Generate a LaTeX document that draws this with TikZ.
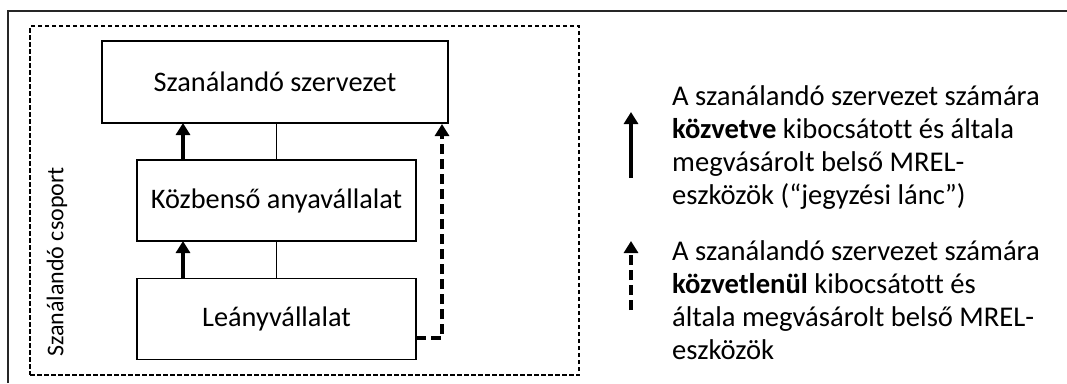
\documentclass[tikz,border=0pt]{standalone}
\usepackage{fontspec}
\setmainfont{Carlito}[Ligatures=CommonOff]
\usetikzlibrary{arrows.meta}
\tikzset{
  box/.style={draw, line width=1.6pt, minimum width=346pt, minimum height=82pt, inner sep=0pt, font=\fontsize{28.3}{32}\selectfont},
  midbox/.style={box, minimum width=279pt, minimum height=81pt},
  thin/.style={line width=1.3pt},
  thickarrow/.style={line width=3.8pt, -{Triangle[width=14pt,length=12pt]}},
  dasharrow/.style={line width=3.8pt, dash pattern=on 10pt off 5pt, -{Triangle[width=14pt,length=12pt]}},
  grpbox/.style={draw, line width=1.2pt, dash pattern=on 4.5pt off 2.5pt},
  legtext/.style={anchor=base west, inner sep=0pt, font=\fontsize{28.6}{33}\selectfont},
}
\begin{document}
\begin{tikzpicture}[x=1pt,y=-1pt]
\useasboundingbox (0,0) rectangle (1067,383);
% outer frame
\coordinate (fbl) at (8,383);
\coordinate (ftl) at (8,11);
\coordinate (ftr) at (1067,11);
\draw[line width=1.8pt, black!85] (fbl) -- (ftl) -- (ftr);
% group box
\node[grpbox, minimum width=549pt, minimum height=349pt, inner sep=0pt] (grp) at (304.5,200.5) {};
\node[rotate=90, font=\fontsize{24}{28}\selectfont, inner sep=0pt] (grplabel) at (57,262) {Szanálandó csoport};
% boxes
\node[box] (top) at (275,82) {Szanálandó szervezet};
\node[midbox] (mid) at (276.5,200.5) {Közbenső anyavállalat};
\node[midbox] (bot) at (276.5,319) {Leányvállalat};
% thin connectors
\draw[thin] (top.south -| mid.north) -- (mid.north);
\draw[thin] (mid.south) -- (bot.north);
% thick arrows
\coordinate (a1s) at (183,160);
\coordinate (a1e) at (183,123);
\coordinate (a2s) at (183,278);
\coordinate (a2e) at (183,241);
\draw[thickarrow] (a1s) -- (a1e);
\draw[thickarrow] (a2s) -- (a2e);
% dashed arrow
\coordinate (dstart) at (416,338);
\coordinate (dcorner) at (442,338);
\coordinate (dend) at (442,124);
\draw[dasharrow] (dstart) -- (dcorner) -- (dend);
% legend arrows
\coordinate (l1s) at (631,178);
\coordinate (l1e) at (631,112);
\coordinate (l2s) at (631,310);
\coordinate (l2e) at (631,241);
\draw[thickarrow, line width=3.4pt] (l1s) -- (l1e);
\draw[dasharrow, line width=3.4pt] (l2s) -- (l2e);
% legend texts
\node[legtext] (t11) at (672,105) {A szanálandó szervezet számára};
\node[legtext] (t12) at (672,138) {\textbf{közvetve} kibocsátott és általa};
\node[legtext] (t13) at (672,171) {megvásárolt belső MREL-};
\node[legtext] (t14) at (672,204) {eszközök (“jegyzési lánc”)};
\node[legtext] (t21) at (672,260) {A szanálandó szervezet számára};
\node[legtext] (t22) at (672,293) {\textbf{közvetlenül} kibocsátott és};
\node[legtext] (t23) at (672,326) {általa megvásárolt belső MREL-};
\node[legtext] (t24) at (672,359) {eszközök};
\end{tikzpicture}
\end{document}
